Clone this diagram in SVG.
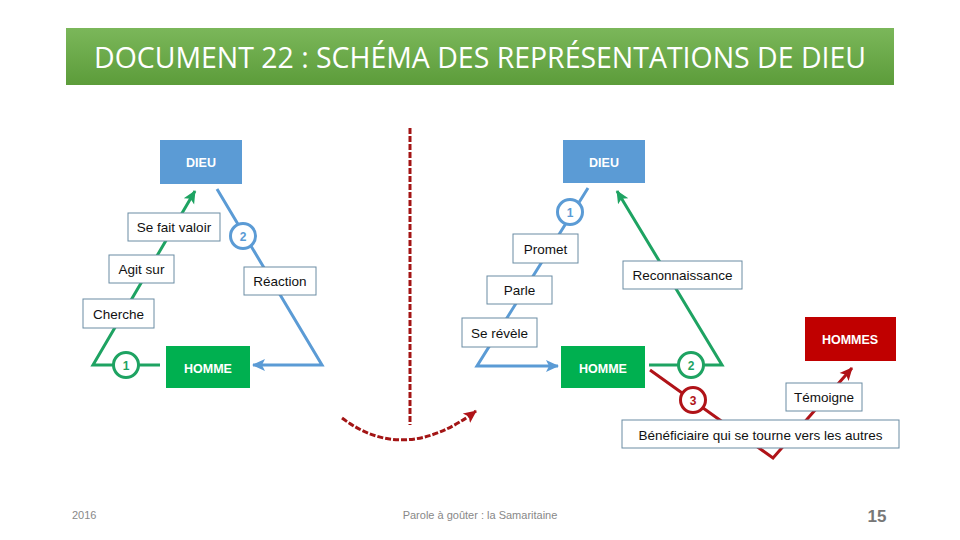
<svg xmlns="http://www.w3.org/2000/svg" width="960" height="540" viewBox="0 0 960 540">
<defs>
<linearGradient id="tg" x1="0" y1="0" x2="0" y2="1">
<stop offset="0" stop-color="#7bb75a"/>
<stop offset="1" stop-color="#5c9c3a"/>
</linearGradient>
<marker id="ab" markerUnits="userSpaceOnUse" markerWidth="14" markerHeight="14" refX="12" refY="7" orient="auto"><path d="M0,1 L13,7 L0,13 L3,7 Z" fill="#5b9bd5"/></marker>
<marker id="ag" markerUnits="userSpaceOnUse" markerWidth="14" markerHeight="14" refX="12" refY="7" orient="auto"><path d="M0,1 L13,7 L0,13 L3,7 Z" fill="#1ea362"/></marker>
<marker id="ar" markerUnits="userSpaceOnUse" markerWidth="14" markerHeight="14" refX="12" refY="7" orient="auto"><path d="M0,1 L13,7 L0,13 L3,7 Z" fill="#b01318"/></marker>
</defs>
<style>
.t{font-family:"Liberation Sans",Arial,sans-serif}
.lbl{fill:#fff;stroke:#6a8ca3;stroke-width:1}
.lt{font-family:"Liberation Sans",Arial,sans-serif;font-size:13.5px;fill:#111;text-anchor:middle}
.bt{font-family:"Liberation Sans",Arial,sans-serif;font-size:12.5px;font-weight:bold;fill:#fff;text-anchor:middle}
.blue{stroke:#5b9bd5;stroke-width:3;fill:none}
.green{stroke:#1ea362;stroke-width:3;fill:none}
.red{stroke:#b01318;stroke-width:3;fill:none}
.cb{fill:#fff;stroke:#5b9bd5;stroke-width:3}
.cg{fill:#fff;stroke:#1ea362;stroke-width:3}
.cr{fill:#fff;stroke:#b01318;stroke-width:3}
.ct{font-family:"Liberation Sans",Arial,sans-serif;font-size:12px;font-weight:bold;text-anchor:middle}
.dash{stroke:#a31515;stroke-width:3;fill:none;stroke-dasharray:6 2}
</style>
<rect width="960" height="540" fill="#fff"/>
<g id="title">
<rect x="66" y="28" width="828" height="57" fill="url(#tg)"/>
<text x="480" y="68" font-family="'Open Sans','Liberation Sans',sans-serif" font-size="30" fill="#fff" text-anchor="middle" textLength="772" lengthAdjust="spacingAndGlyphs">DOCUMENT 22 : SCHÉMA DES REPRÉSENTATIONS DE DIEU</text>
</g>
<g id="connectors">
<polyline class="blue" points="217,189 322,365 253,365" marker-end="url(#ab)"/>
<polyline class="green" points="160,365 93,365 195,191" marker-end="url(#ag)"/>
<polyline class="blue" points="588,188 477,366 558,366" marker-end="url(#ab)"/>
<polyline class="green" points="649,365 722,365 617,191" marker-end="url(#ag)"/>
<polyline class="red" points="650,370 773,458 852,368" marker-end="url(#ar)"/>
<line class="dash" x1="410" y1="128" x2="410" y2="425"/>
<path class="dash" d="M342,418 Q404,465 476,411" marker-end="url(#ar)"/>
</g>
<g id="c-left-1"><circle class="cg" cx="126" cy="365" r="12.5"/><text class="ct" x="126" y="369.5" fill="#1ea362">1</text></g>
<g id="c-left-2"><circle class="cb" cx="243" cy="236" r="12.5"/><text class="ct" x="243" y="240.5" fill="#5b9bd5">2</text></g>
<g id="c-right-1"><circle class="cb" cx="570" cy="212" r="12.5"/><text class="ct" x="570" y="216.5" fill="#5b9bd5">1</text></g>
<g id="c-right-2"><circle class="cg" cx="691" cy="365" r="12.5"/><text class="ct" x="691" y="369.5" fill="#1ea362">2</text></g>
<g id="c-right-3"><circle class="cr" cx="693" cy="400" r="12.5"/><text class="ct" x="693" y="404.5" fill="#b01318">3</text></g>
<g id="dieu-left"><rect x="160" y="140" width="82" height="44" fill="#5b9bd5"/><text class="bt" x="201" y="167">DIEU</text></g>
<g id="homme-left"><rect x="166" y="346" width="84" height="42" fill="#00b050"/><text class="bt" x="208" y="373">HOMME</text></g>
<g id="dieu-right"><rect x="563" y="140" width="82" height="43" fill="#5b9bd5"/><text class="bt" x="604" y="167">DIEU</text></g>
<g id="homme-right"><rect x="561" y="346" width="84" height="42" fill="#00b050"/><text class="bt" x="603" y="373">HOMME</text></g>
<g id="hommes"><rect x="805" y="317" width="91" height="44" fill="#c00000"/><text class="bt" x="850" y="344">HOMMES</text></g>
<g id="l-sefait"><rect class="lbl" x="128" y="213" width="92" height="28"/><text class="lt" x="174" y="232">Se fait valoir</text></g>
<g id="l-agit"><rect class="lbl" x="109" y="255" width="65" height="28"/><text class="lt" x="141.5" y="274">Agit sur</text></g>
<g id="l-cherche"><rect class="lbl" x="83" y="299" width="71" height="29"/><text class="lt" x="118.5" y="319">Cherche</text></g>
<g id="l-reaction"><rect class="lbl" x="244" y="267" width="72" height="28"/><text class="lt" x="280" y="286">Réaction</text></g>
<g id="l-promet"><rect class="lbl" x="513" y="234" width="65" height="29"/><text class="lt" x="545.5" y="254">Promet</text></g>
<g id="l-parle"><rect class="lbl" x="487" y="276" width="65" height="28"/><text class="lt" x="519.5" y="295">Parle</text></g>
<g id="l-revele"><rect class="lbl" x="462" y="318" width="75" height="29"/><text class="lt" x="499.5" y="338">Se révèle</text></g>
<g id="l-reco"><rect class="lbl" x="623" y="261" width="119" height="28"/><text class="lt" x="682.5" y="280">Reconnaissance</text></g>
<g id="l-temoigne"><rect class="lbl" x="786" y="383" width="76" height="28"/><text class="lt" x="824" y="402">Témoigne</text></g>
<g id="l-benef"><rect class="lbl" x="622" y="420" width="277" height="28"/><text class="lt" x="760.5" y="440">Bénéficiaire qui se tourne vers les autres</text></g>
<g id="footer">
<text x="72" y="519" class="t" font-size="11" fill="#888">2016</text>
<text x="480" y="519" class="t" font-size="11" fill="#888" text-anchor="middle">Parole à goûter : la Samaritaine</text>
<text x="877" y="522" class="t" font-size="17" font-weight="bold" fill="#777" text-anchor="middle">15</text>
</g>
</svg>
